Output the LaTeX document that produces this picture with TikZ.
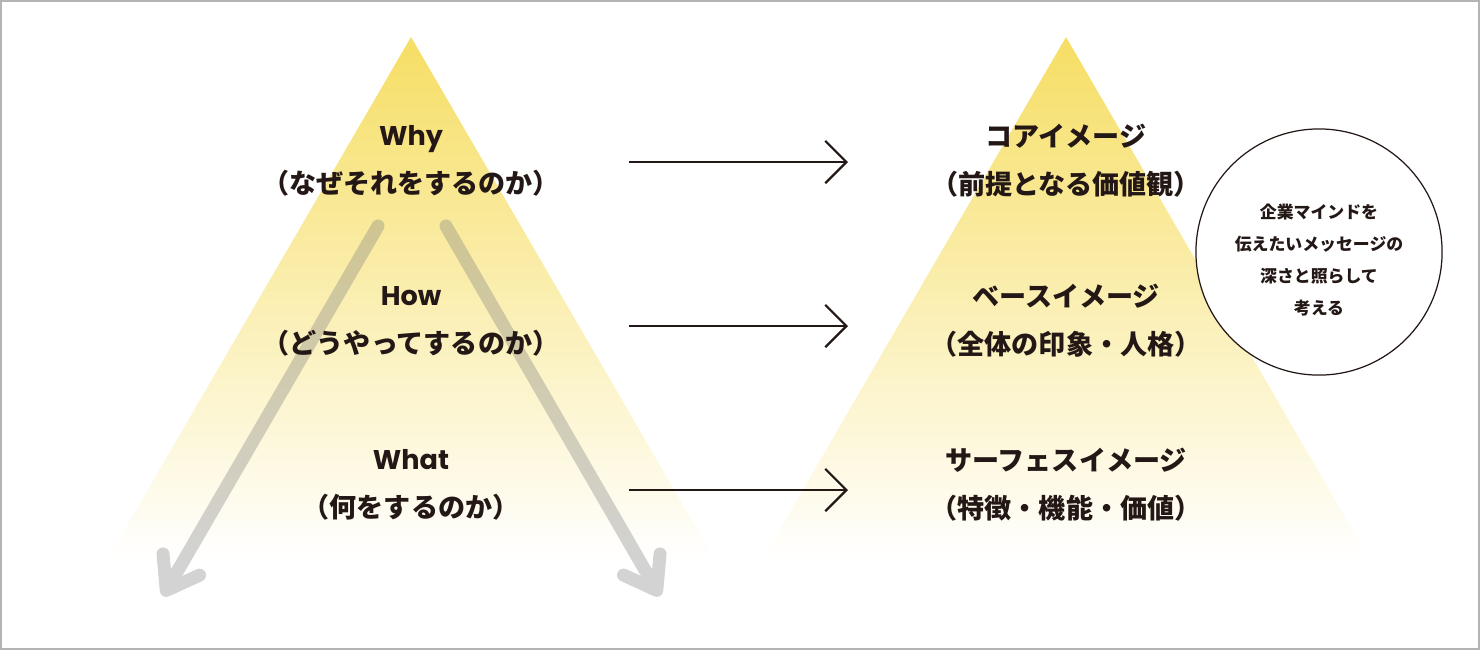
\documentclass[tikz,border=0pt]{standalone}
\usepackage{fontspec}
\setmainfont{Noto Sans CJK JP}
\newfontfamily\latinfont{Poppins}
\usetikzlibrary{arrows.meta}

\definecolor{pyellow}{RGB}{246,222,100}
\definecolor{ink}{RGB}{35,24,21}
\definecolor{framegray}{RGB}{180,180,180}

\tikzset{
  lbl/.style={font=\fontsize{7.7}{13.7}\selectfont\bfseries, text=ink, align=center},
  note/.style={font=\fontsize{4.8}{9.1}\selectfont\bfseries, text=ink, align=center},
  flow/.style={draw=ink, line width=0.65pt, -{Straight Barb[length=6pt,width=12pt]}},
  depth/.style={draw=gray, line width=3.7pt, line cap=round, -{Straight Barb[length=8.5pt,width=12pt,round]}},
  pyramid/.style={top color=pyellow, middle color=pyellow!60, bottom color=white}
}

\begin{document}
\begin{tikzpicture}[x=0.01cm, y=-0.01cm]
        \useasboundingbox (0,0) rectangle (1480,650);
        \draw[framegray, line width=0.6pt] (1,1) rectangle (1479,649);

        \coordinate (LA) at (411,37);
        \coordinate (LB) at (107,560);
        \coordinate (LC) at (715,560);
        \coordinate (RA) at (1066,37);
        \coordinate (RB) at (762,560);
        \coordinate (RC) at (1370,560);

        \shade[pyramid] (LA) -- (LB) -- (LC) -- cycle;
        \shade[pyramid] (RA) -- (RB) -- (RC) -- cycle;

    % Depth arrows
    \coordinate (G1) at (378,226);
    \coordinate (G2) at (163,596);
    \coordinate (G3) at (446,226);
    \coordinate (G4) at (660,596);
    \begin{scope}[transparency group, opacity=0.35]
        \draw[depth] (G1) -- (G2);
        \draw[depth] (G3) -- (G4);
    \end{scope}

    % Labels
    \node[lbl] (why) at (411,161) {{\latinfont Why}\\（なぜそれをするのか）};
    \node[lbl] (how) at (411,321) {{\latinfont How}\\（どうやってするのか）};
    \node[lbl] (what) at (411,485) {{\latinfont What}\\（何をするのか）};
    \node[lbl] (core) at (1066,161) {コアイメージ\\（前提となる価値観）};
    \node[lbl] (base) at (1066,321) {ベースイメージ\\（全体の印象・人格）};
    \node[lbl] (surface) at (1066,485) {サーフェスイメージ\\（特徴・機能・価値）};

    % Arrows
    \coordinate (A1) at (629,162);
    \coordinate (B1) at (848,162);
    \coordinate (A2) at (629,326);
    \coordinate (B2) at (848,326);
    \coordinate (A3) at (629,490);
    \coordinate (B3) at (848,490);
    \draw[flow] (A1) -- (B1);
    \draw[flow] (A2) -- (B2);
    \draw[flow] (A3) -- (B3);

    % Circle
    \node[circle, draw=ink, fill=white, line width=0.35pt, minimum size=2.46cm, inner sep=0pt] (mind) at (1319,252) {};
    \node[note] (mindtxt) at (1319,260) {企業マインドを\\伝えたいメッセージの\\深さと照らして\\考える};
    \end{tikzpicture}
\end{document}
